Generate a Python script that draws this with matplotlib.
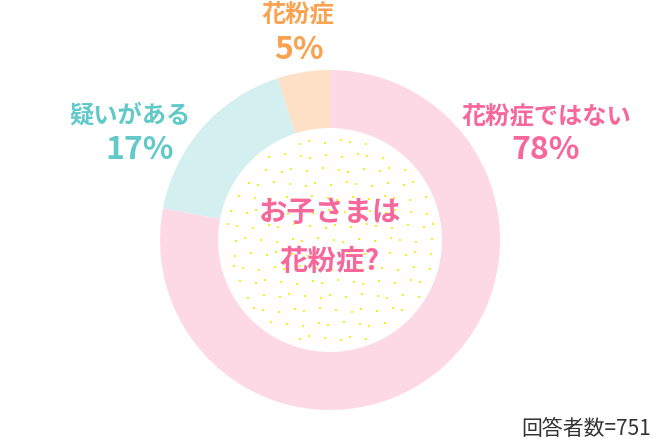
import matplotlib
matplotlib.use('Agg')
import matplotlib.pyplot as plt
import numpy as np

plt.rcParams['font.family'] = ['Noto Sans CJK JP', 'DejaVu Sans']

# data
labels = ['花粉症ではない', '疑いがある', '花粉症']
values = [78, 17, 5]
pct_text = ['78%', '17%', '5%']
colors = ['#fdd9e5', '#d3eff0', '#fde0c6']
text_colors = ['#f7679a', '#62c9c9', '#f9a24f']
title_lines = ['お子さまは', '花粉症?']
note = '回答者数=751'

fig = plt.figure(figsize=(6.6, 4.4), dpi=100)
ax = fig.add_axes([0, 0, 1, 1])

cx, cy = 330, 200
R, r_in = 170, 112

ax.pie(values, colors=colors, startangle=90, counterclock=False,
       center=(cx, cy), radius=R, frame=True,
       wedgeprops=dict(width=R - r_in, linewidth=0))
ax.set_xlim(0, 660)
ax.set_ylim(0, 440)
ax.set_aspect('equal')
ax.axis('off')

# yellow dots inside the hole (fixed staggered pattern)
step = 14
pts_x, pts_y = [], []
for j, y in enumerate(np.arange(cy - r_in, cy + r_in, step)):
    off = (j % 2) * step / 2 + (j * 5 % 7) - 3
    for i, x in enumerate(np.arange(cx - r_in + off, cx + r_in, step)):
        dy = ((i * 3 + j) % 5) - 2
        dx = ((i * 2 + j * 3) % 7) - 3
        if (x + dx - cx) ** 2 + (y + dy - cy) ** 2 < (r_in - 5) ** 2:
            pts_x.append(x + dx)
            pts_y.append(y + dy)
ax.scatter(pts_x, pts_y, s=3.5, marker='s', color='#ffea1f', linewidths=0)

# centre text
ax.text(cx, 440 - 213, title_lines[0], ha='center', va='center',
        fontsize=20.5, fontweight='bold', color=text_colors[0])
ax.text(cx, 440 - 262, title_lines[1], ha='center', va='center',
        fontsize=20.5, fontweight='bold', color=text_colors[0])

# labels
label_pos = [(546, 546, 116, 150), (130, 140, 116, 150), (298, 299, 14, 50)]
for lab, p, col, (x1, x2, y1, y2) in zip(labels, pct_text, text_colors, label_pos):
    ax.text(x1, 440 - y1, lab, ha='center', va='center',
            fontsize=17.5, fontweight='bold', color=col)
    ax.text(x2, 440 - y2, p, ha='center', va='center',
            fontsize=23, fontweight='bold', color=col)

ax.text(651, 440 - 429, note, ha='right', va='center',
        fontsize=15, color='#333333')

fig.savefig('out.png', dpi=100)
